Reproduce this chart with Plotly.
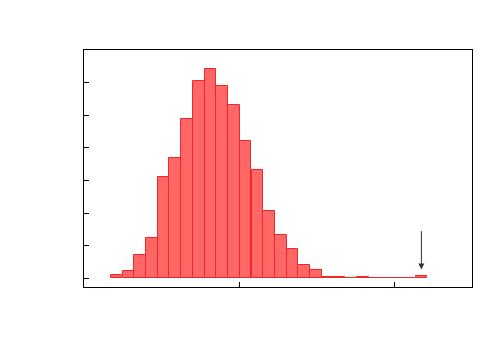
import plotly.graph_objects as go

# Histogram data (bin centres and heights, y in tick units)
bin_centers = [0.211, 0.286, 0.362, 0.437, 0.513, 0.588, 0.664, 0.739, 0.815,
               0.890, 0.966, 1.041, 1.117, 1.192, 1.268, 1.343, 1.419, 1.494,
               1.570, 1.645, 1.721, 1.796, 1.872, 1.947, 2.023, 2.098, 2.174]
counts = [0.10, 0.21, 0.70, 1.24, 3.09, 3.68, 4.87, 6.06, 6.42,
          5.91, 5.30, 4.21, 3.32, 2.05, 1.34, 0.91, 0.40, 0.24,
          0.05, 0.04, 0.0, 0.05, 0.0, 0.0, 0.0, 0.0, 0.08]
bin_width = 0.0755

# Arrow marking the outlier bin
arrow_x = 2.174
arrow_tail = 1.49
arrow_tip = 0.27

fig = go.Figure()
fig.add_trace(
    go.Bar(
        x=bin_centers,
        y=counts,
        width=bin_width,
        marker=dict(color="rgba(255,0,0,0.6)",
                    line=dict(color="rgb(240,40,40)", width=1)),
        showlegend=False,
    )
)

fig.add_annotation(
    x=arrow_x, y=arrow_tip,
    ax=arrow_x, ay=arrow_tail,
    xref="x", yref="y", axref="x", ayref="y",
    text="", showarrow=True,
    arrowhead=2, arrowsize=1.2, arrowwidth=1, arrowcolor="#333333",
)

axis_style = dict(
    showline=True, mirror=True, linecolor="black", linewidth=1,
    ticks="inside", ticklen=5, tickcolor="black",
    showticklabels=False, showgrid=False, zeroline=False,
)

fig.update_xaxes(range=[0, 2.5], tickvals=[1, 2], **axis_style)
fig.update_yaxes(range=[-0.27, 7.0], tickvals=[0, 1, 2, 3, 4, 5, 6], **axis_style)

# page body adds an 8px offset, margins compensate for it
fig.update_layout(
    width=500, height=350,
    margin=dict(l=76, r=36, t=42, b=71),
    paper_bgcolor="white", plot_bgcolor="white",
    bargap=0,
)

fig.write_html("out.html")
